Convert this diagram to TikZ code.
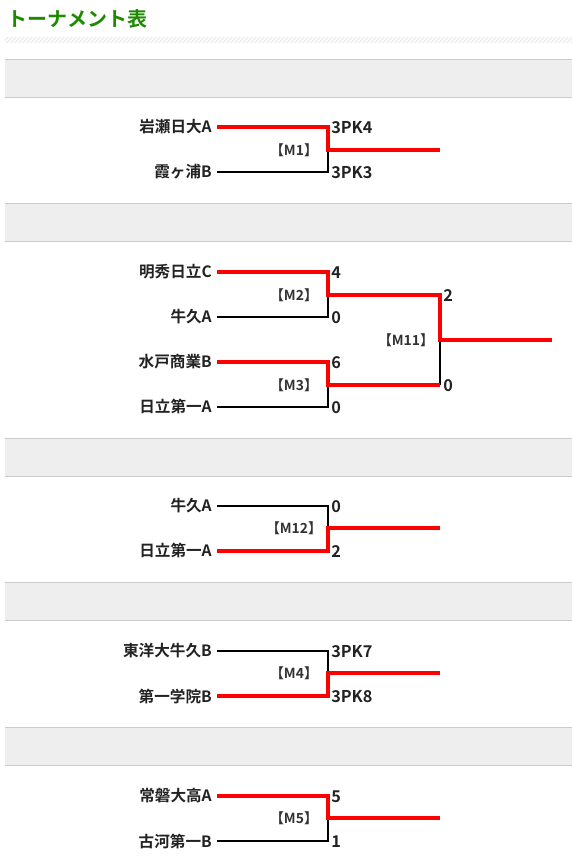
\documentclass[tikz,border=0pt]{standalone}
\usepackage{fontspec}
\setmainfont{Noto Sans CJK JP}
\newfontfamily\jpbold{Noto Sans CJK JP Bold}
\definecolor{titlegreen}{HTML}{1E8A00}
\definecolor{bandgray}{HTML}{EEEEEE}
\definecolor{bandline}{HTML}{CCCCCC}
\definecolor{txt}{HTML}{222222}
\definecolor{lbl}{HTML}{333333}
\begin{document}
\begin{tikzpicture}[x=0.75pt,y=-0.75pt,
  team/.style={anchor=east,inner sep=0pt,font=\jpbold\fontsize{11.7pt}{12pt}\selectfont,text=txt},
  score/.style={anchor=west,inner sep=0pt,font=\jpbold\fontsize{12.2pt}{13pt}\selectfont,text=txt},
  mlabel/.style={inner sep=0pt,font=\jpbold\fontsize{10.4pt}{11pt}\selectfont,text=lbl},
  lose/.style={draw=black,line width=1.6pt},
  win/.style={draw=red,line width=2.6pt,line join=miter},
  band/.style={fill=bandgray,draw=none}]
\useasboundingbox (0,0) rectangle (572,868);
\fill[white] (0,0) rectangle (572,868);
% title
\node[anchor=west,inner sep=0pt,font=\jpbold\fontsize{15pt}{16pt}\selectfont,text=titlegreen] (title) at (7,19) {トーナメント表};
% hatched bar
\fill[bandgray] (5,37) rectangle (572,43);
\begin{scope}
\clip (5,37) rectangle (572,43);
\foreach \i in {0,4,...,580} {\draw[white,line width=0.9pt] (\i,44) -- (\i+7,36);}
\end{scope}
% bands
\foreach \y in {59,203,438,582,727} {
  \fill[bandgray] (5,\y) rectangle (572,\y+38);
  \draw[bandline,line width=0.7pt] (5,\y) -- (572,\y);
  \draw[bandline,line width=0.7pt] (5,\y+38) -- (572,\y+38);
}
% ---------- M1
\node[team] (t1) at (212,127) {岩瀬日大A};
\node[team] (t2) at (212,172) {霞ヶ浦B};
\coordinate (m1a) at (328,127); \coordinate (m1b) at (328,172);
\coordinate (m1m) at (328,150); \coordinate (m1o) at (440,150);
\draw[lose] ([xshift=4pt]t2.east) -- (m1b) -- (m1m);
\draw[win] ([xshift=4pt]t1.east) -- (m1a) -- (m1m) -- (m1o);
\node[score] (s1) at (331,128) {3PK4};
\node[score] (s2) at (331,173) {3PK3};
\node[mlabel] (M1) at (294,150) {【M1】};
% ---------- M2
\node[team] (t3) at (212,272) {明秀日立C};
\node[team] (t4) at (212,317) {牛久A};
\coordinate (m2a) at (328,272); \coordinate (m2b) at (328,317);
\coordinate (m2m) at (328,295);
\draw[lose] ([xshift=4pt]t4.east) -- (m2b) -- (m2m);
\node[score] (s3) at (331,273) {4};
\node[score] (s4) at (331,318) {0};
\node[mlabel] (M2) at (294,295) {【M2】};
% ---------- M3
\node[team] (t5) at (212,362) {水戸商業B};
\node[team] (t6) at (212,407) {日立第一A};
\coordinate (m3a) at (328,362); \coordinate (m3b) at (328,407);
\coordinate (m3m) at (328,385);
\draw[lose] ([xshift=4pt]t6.east) -- (m3b) -- (m3m);
\node[score] (s5) at (331,363) {6};
\node[score] (s6) at (331,408) {0};
\node[mlabel] (M3) at (294,385) {【M3】};
% ---------- M11
\coordinate (m11a) at (440,295); \coordinate (m11b) at (440,385);
\coordinate (m11m) at (440,340); \coordinate (m11o) at (552,340);
\draw[lose] (m11m) -- (m11b);
\draw[win] ([xshift=4pt]t5.east) -- (m3a) -- (m3m) -- (m11b);
\draw[win] ([xshift=4pt]t3.east) -- (m2a) -- (m2m) -- (m11a) -- (m11m) -- (m11o);
\node[score] (s7) at (443,296) {2};
\node[score] (s8) at (443,386) {0};
\node[mlabel] (M11) at (406,340) {【M11】};
% ---------- M12
\node[team] (t7) at (212,506) {牛久A};
\node[team] (t8) at (212,551) {日立第一A};
\coordinate (m12a) at (328,506); \coordinate (m12b) at (328,551);
\coordinate (m12m) at (328,528); \coordinate (m12o) at (440,528);
\draw[lose] ([xshift=4pt]t7.east) -- (m12a) -- (m12m);
\draw[win] ([xshift=4pt]t8.east) -- (m12b) -- (m12m) -- (m12o);
\node[score] (s9) at (331,507) {0};
\node[score] (s10) at (331,552) {2};
\node[mlabel] (M12) at (294,528) {【M12】};
% ---------- M4
\node[team] (t9) at (212,651) {東洋大牛久B};
\node[team] (t10) at (212,696) {第一学院B};
\coordinate (m4a) at (328,651); \coordinate (m4b) at (328,696);
\coordinate (m4m) at (328,673); \coordinate (m4o) at (440,673);
\draw[lose] ([xshift=4pt]t9.east) -- (m4a) -- (m4m);
\draw[win] ([xshift=4pt]t10.east) -- (m4b) -- (m4m) -- (m4o);
\node[score] (s11) at (331,652) {3PK7};
\node[score] (s12) at (331,697) {3PK8};
\node[mlabel] (M4) at (294,673) {【M4】};
% ---------- M5
\node[team] (t11) at (212,796) {常磐大高A};
\node[team] (t12) at (212,841) {古河第一B};
\coordinate (m5a) at (328,796); \coordinate (m5b) at (328,841);
\coordinate (m5m) at (328,818); \coordinate (m5o) at (440,818);
\draw[lose] ([xshift=4pt]t12.east) -- (m5b) -- (m5m);
\draw[win] ([xshift=4pt]t11.east) -- (m5a) -- (m5m) -- (m5o);
\node[score] (s13) at (331,797) {5};
\node[score] (s14) at (331,842) {1};
\node[mlabel] (M5) at (294,818) {【M5】};
\end{tikzpicture}
\end{document}
